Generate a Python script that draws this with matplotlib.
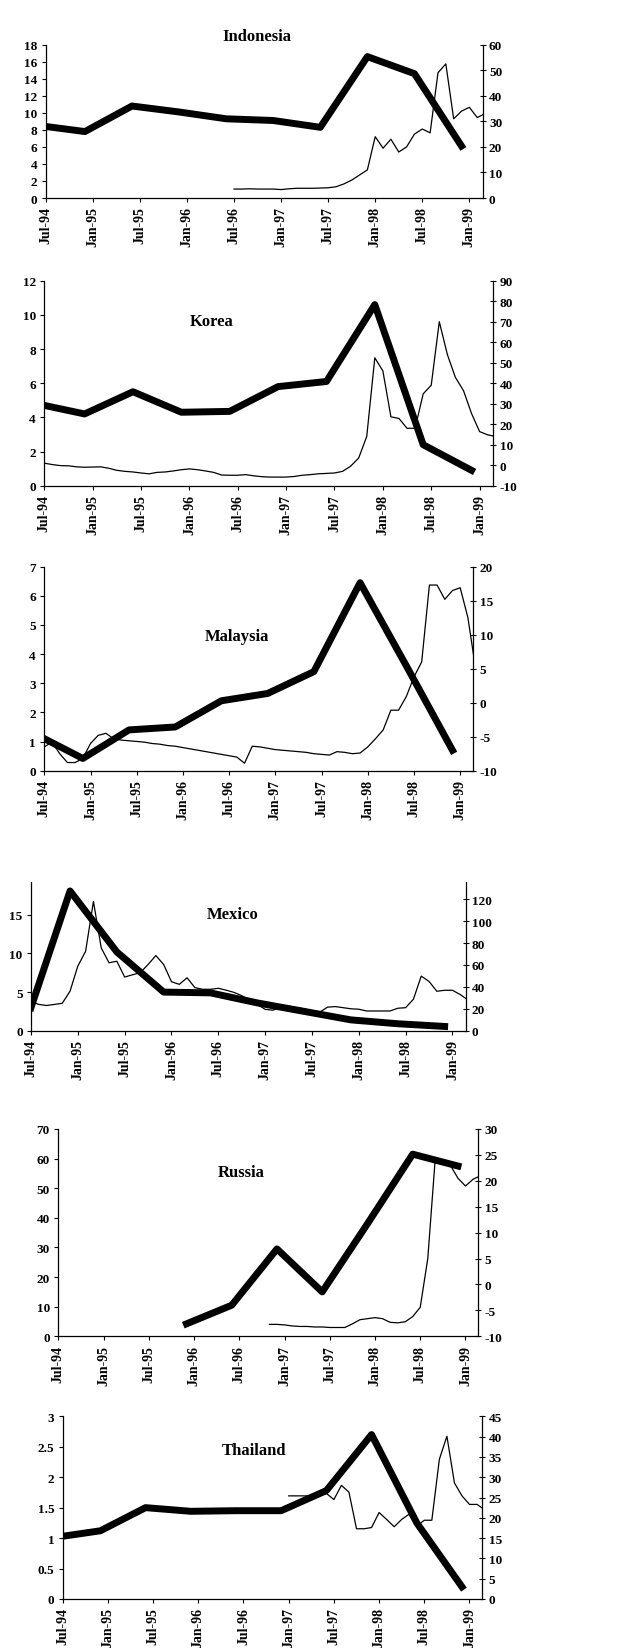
import numpy as np
import matplotlib
matplotlib.use("Agg")
import matplotlib.pyplot as plt
from matplotlib.ticker import FuncFormatter

plt.rcParams['font.family'] = ['Liberation Serif', 'DejaVu Serif']
plt.rcParams['font.weight'] = 'bold'
plt.rcParams['axes.unicode_minus'] = False

# months counted from Jul-94
tick_months = [0, 6, 12, 18, 24, 30, 36, 42, 48, 54]
tick_labels = ['Jul-94', 'Jan-95', 'Jul-95', 'Jan-96', 'Jul-96',
               'Jan-97', 'Jul-97', 'Jan-98', 'Jul-98', 'Jan-99']
semi_months = [0, 5, 11, 17, 23, 29, 35, 41, 47, 53]

indonesia_thick = [8.4, 7.8, 10.8, 10.1, 9.3, 9.1, 8.3, 16.6, 14.6, 6.1]
indonesia_thin_start = 24
indonesia_thin = [3.5, 3.5, 3.6, 3.5, 3.5, 3.5, 3.3, 3.6, 3.8, 3.8, 3.8, 3.9,
                  4.0, 4.4, 5.5, 7.0, 9.0, 11.0, 24.0, 19.5, 23.0, 18.0, 20.0,
                  25.0, 27.0, 25.5, 49.0, 52.5, 31.0, 34.0, 35.5, 31.5, 33.0]

korea_thick = [4.7, 4.2, 5.5, 4.3, 4.35, 5.8, 6.1, 10.6, 2.4, 0.9]
korea_thin_start = 0
korea_thin = [1.0, 0.3, -0.2, -0.3, -0.8, -1.0, -0.9, -0.8, -1.5, -2.5, -3.0,
              -3.3, -3.8, -4.2, -3.5, -3.3, -2.8, -2.2, -1.8, -2.2, -2.8, -3.5,
              -4.8, -4.9, -4.9, -4.6, -5.2, -5.6, -5.8, -5.8, -5.8, -5.5, -4.9,
              -4.6, -4.2, -4.0, -3.8, -3.0, -0.5, 3.5, 14.0, 52.4, 46.0, 23.6,
              22.8, 18.0, 18.0, 34.8, 39.0, 70.0, 54.0, 42.8, 36.4, 25.2, 16.4,
              14.8, 14.0]

malaysia_thick = [1.1, 0.42, 1.4, 1.5, 2.4, 2.65, 3.4, 6.45, 3.6, 0.7]
malaysia_thin_start = 0
malaysia_thin = [-6.5, -5.8, -7.5, -8.8, -8.8, -8.2, -6.0, -4.8, -4.5, -5.3,
                 -5.5, -5.6, -5.7, -5.8, -6.0, -6.1, -6.3, -6.4, -6.6, -6.8,
                 -7.0, -7.2, -7.4, -7.6, -7.8, -8.0, -8.9, -6.4, -6.5, -6.7,
                 -6.9, -7.0, -7.1, -7.2, -7.3, -7.5, -7.6, -7.7, -7.2, -7.3,
                 -7.5, -7.4, -6.5, -5.3, -4.0, -1.1, -1.1, 0.9, 3.8, 6.0, 17.3,
                 17.3, 15.2, 16.5, 16.9, 12.5, 5.0]

mexico_thick = [3.0, 18.1, 10.2, 5.0, 4.9, 3.6, 2.5, 1.4, 0.9, 0.55]
mexico_thin_start = 0
mexico_thin = [26.6, 24.0, 23.0, 24.0, 25.0, 36.0, 59.0, 72.5, 118.0, 75.5,
               62.0, 63.4, 49.0, 51.0, 53.0, 60.4, 68.6, 60.4, 44.7, 42.3, 48.3,
               39.3, 37.8, 37.8, 38.7, 37.0, 35.0, 32.0, 28.0, 24.0, 19.5, 18.7,
               21.5, 22.5, 21.0, 20.0, 18.0, 17.0, 21.5, 22.0, 21.0, 20.0, 19.6,
               18.0, 18.0, 18.0, 18.0, 20.5, 21.0, 28.7, 49.8, 45.0, 36.0, 36.9,
               36.9, 33.0, 28.0]

russia_thick = [np.nan, np.nan, np.nan, 4.2, 10.5, 29.5, 15.0, 38.0, 61.5, 57.5]
russia_thin_start = 28
russia_thin = [-7.7, -7.7, -7.8, -8.0, -8.1, -8.1, -8.2, -8.2, -8.3, -8.3,
               -8.3, -7.6, -6.8, -6.6, -6.4, -6.6, -7.3, -7.4, -7.2, -6.2,
               -4.4, 5.0, 24.5, 24.0, 23.0, 20.5, 19.0, 20.3, 21.0]

thailand_thick = [1.03, 1.12, 1.5, 1.44, 1.45, 1.45, 1.78, 2.7, 1.25, 0.2]
thailand_thin_start = 30
thailand_thin = [25.4, 25.4, 25.4, 25.4, 25.4, 26.0, 24.5, 28.0, 26.3, 17.3,
                 17.3, 17.6, 21.3, 19.6, 17.8, 19.6, 20.9, 18.0, 19.4, 19.4,
                 34.4, 40.1, 28.6, 25.4, 23.3, 23.3, 22.0]

W, H = 644, 1649
fig = plt.figure(figsize=(W / 100, H / 100), dpi=100)
fmt = FuncFormatter(lambda v, p: '%g' % v)


def draw_panel(box, title, title_xy, thick, thin_start, thin,
               ylim_l, yticks_l, ylim_r, yticks_r):
    left, top, right, bottom = box
    ax = fig.add_axes([left / W, 1 - bottom / H, (right - left) / W, (bottom - top) / H])
    ax2 = ax.twinx()

    x_thin = np.arange(thin_start, thin_start + len(thin))
    ax2.plot(x_thin, thin, color='black', lw=0.9)
    ax.plot(semi_months, thick, color='black', lw=5)

    # thick series drawn over the thin one
    ax.set_zorder(ax2.get_zorder() + 1)
    ax.patch.set_visible(False)

    ax.set_xlim(0, 55.7)
    ax.set_xticks(tick_months)
    ax.set_xticklabels(tick_labels, rotation=90, fontsize=10, fontweight='bold')
    ax.set_yticks(yticks_l)
    ax.set_ylim(*ylim_l)
    ax.yaxis.set_major_formatter(fmt)
    ax2.set_yticks(yticks_r)
    ax2.set_ylim(*ylim_r)
    ax2.yaxis.set_major_formatter(fmt)

    for s in ['top', 'right']:
        ax.spines[s].set_visible(False)
    for s in ['top', 'left', 'bottom']:
        ax2.spines[s].set_visible(False)
    for a in (ax, ax2):
        for s in a.spines.values():
            s.set_linewidth(0.9)
    ax.tick_params(axis='x', direction='out', length=3, width=0.8, pad=3)
    ax.tick_params(axis='y', direction='out', length=3, width=0.8, pad=3, labelsize=9.5)
    ax2.tick_params(axis='y', direction='inout', length=5, width=0.8, pad=2, labelsize=9.5)

    fig.text(title_xy[0] / W, 1 - title_xy[1] / H, title, ha='center', va='center',
             fontsize=12, fontweight='bold')


draw_panel((45.7, 45.7, 482.7, 199), 'Indonesia', (257, 37),
           indonesia_thick, indonesia_thin_start, indonesia_thin,
           (0, 18), range(0, 19, 2), (0, 60), range(0, 61, 10))
draw_panel((44.3, 281.7, 493.3, 486.7), 'Korea', (212, 322),
           korea_thick, korea_thin_start, korea_thin,
           (0, 12), range(0, 13, 2), (-10, 90), range(-10, 91, 10))
draw_panel((44.3, 567.7, 473.3, 771.7), 'Malaysia', (237, 637),
           malaysia_thick, malaysia_thin_start, malaysia_thin,
           (0, 7), range(0, 8), (-10, 20), range(-10, 21, 5))
draw_panel((31, 882.7, 465.7, 1031.7), 'Mexico', (233, 915),
           mexico_thick, mexico_thin_start, mexico_thin,
           (0, 19.3), range(0, 16, 5), (0, 136), range(0, 121, 20))
draw_panel((58.3, 1130, 478.3, 1337.3), 'Russia', (241, 1173),
           russia_thick, russia_thin_start, russia_thin,
           (0, 70), range(0, 71, 10), (-10, 30), range(-10, 31, 5))
draw_panel((62.7, 1417.3, 482.3, 1600), 'Thailand', (254, 1451),
           thailand_thick, thailand_thin_start, thailand_thin,
           (0, 3), np.arange(0, 3.01, 0.5), (0, 45), range(0, 46, 5))

fig.savefig('out.png', dpi=100, facecolor='white')
